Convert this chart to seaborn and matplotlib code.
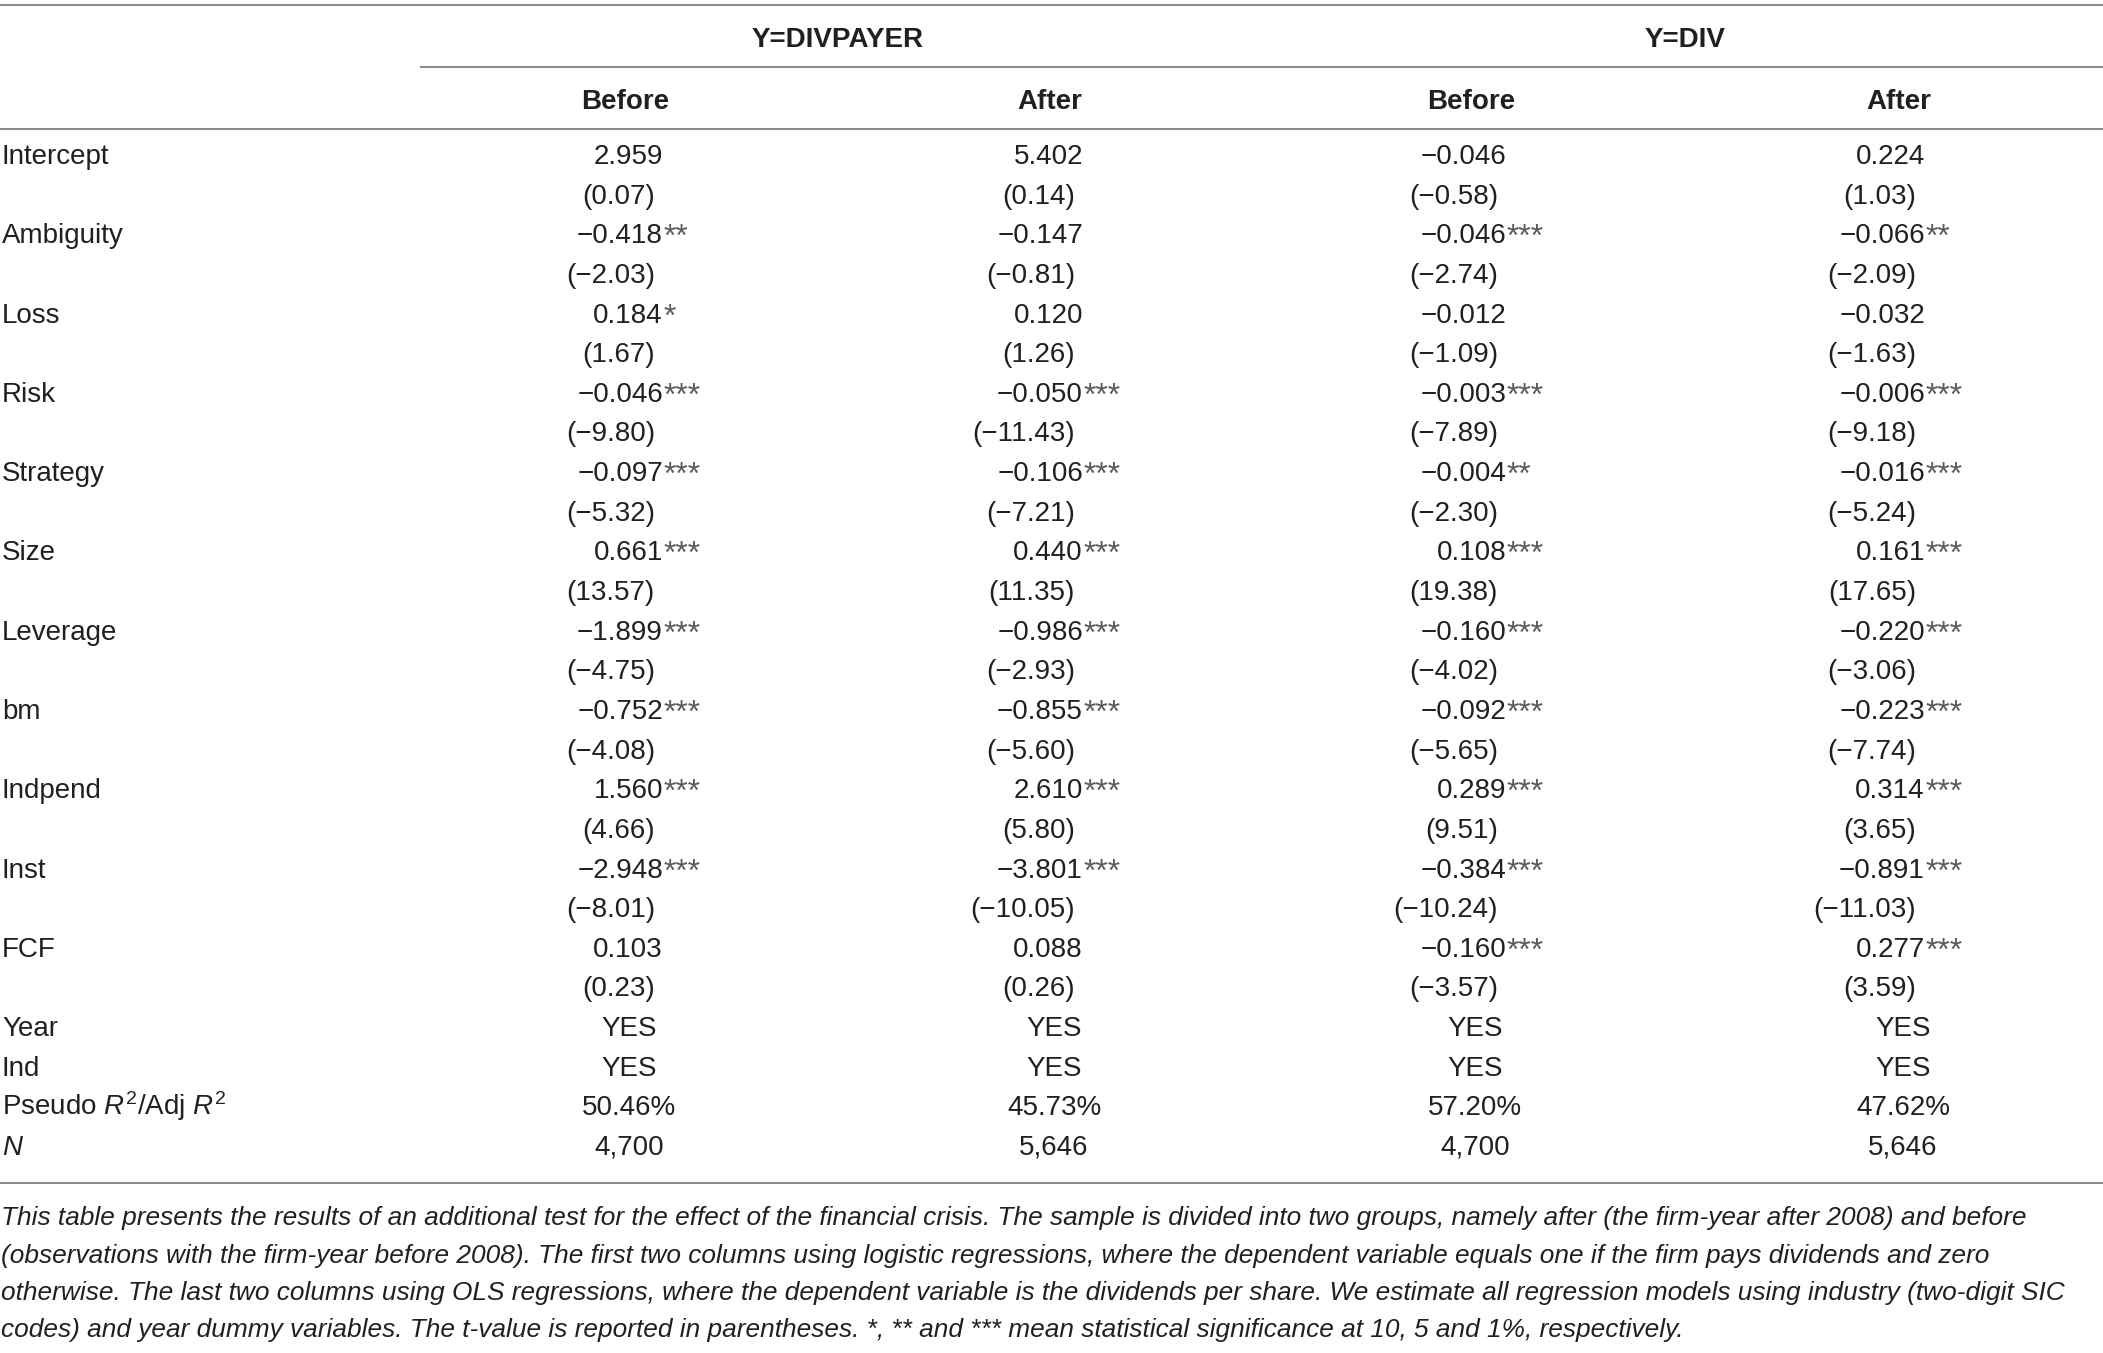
import numpy as np
import pandas as pd
import seaborn as sns
import matplotlib.pyplot as plt

# table contents
variables = ["Intercept", "Ambiguity", "Loss", "Risk", "Strategy", "Size",
             "Leverage", "bm", "Indpend", "Inst", "FCF"]
groups = ["Y=DIVPAYER", "Y=DIV"]
periods = ["Before", "After", "Before", "After"]

coef_div_payer_before = [2.959, -0.418, 0.184, -0.046, -0.097, 0.661, -1.899, -0.752, 1.560, -2.948, 0.103]
coef_div_payer_after = [5.402, -0.147, 0.120, -0.050, -0.106, 0.440, -0.986, -0.855, 2.610, -3.801, 0.088]
coef_div_before = [-0.046, -0.046, -0.012, -0.003, -0.004, 0.108, -0.160, -0.092, 0.289, -0.384, -0.160]
coef_div_after = [0.224, -0.066, -0.032, -0.006, -0.016, 0.161, -0.220, -0.223, 0.314, -0.891, 0.277]

stars_div_payer_before = [0, 2, 1, 3, 3, 3, 3, 3, 3, 3, 0]
stars_div_payer_after = [0, 0, 0, 3, 3, 3, 3, 3, 3, 3, 0]
stars_div_before = [0, 3, 0, 3, 2, 3, 3, 3, 3, 3, 3]
stars_div_after = [0, 2, 0, 3, 3, 3, 3, 3, 3, 3, 3]

t_div_payer_before = [0.07, -2.03, 1.67, -9.80, -5.32, 13.57, -4.75, -4.08, 4.66, -8.01, 0.23]
t_div_payer_after = [0.14, -0.81, 1.26, -11.43, -7.21, 11.35, -2.93, -5.60, 5.80, -10.05, 0.26]
t_div_before = [-0.58, -2.74, -1.09, -7.89, -2.30, 19.38, -4.02, -5.65, 9.51, -10.24, -3.57]
t_div_after = [1.03, -2.09, -1.63, -9.18, -5.24, 17.65, -3.06, -7.74, 3.65, -11.03, 3.59]

year_fe = ["YES", "YES", "YES", "YES"]
ind_fe = ["YES", "YES", "YES", "YES"]
r_squared = ["50.46%", "45.73%", "57.20%", "47.62%"]
n_obs = ["4,700", "5,646", "4,700", "5,646"]

footer_labels = ["Year", "Ind", "Pseudo $R^2$/Adj $R^2$", "$N$"]

caption_lines = [
    "This table presents the results of an additional test for the effect of the financial crisis. "
    "The sample is divided into two groups, namely after (the firm-year after 2008) and before",
    "(observations with the firm-year before 2008). The first two columns using logistic regressions, "
    "where the dependent variable equals one if the firm pays dividends and zero",
    "otherwise. The last two columns using OLS regressions, where the dependent variable is the "
    "dividends per share. We estimate all regression models using industry (two-digit SIC",
    "codes) and year dummy variables. The t-value is reported in parentheses. *, ** and *** mean "
    "statistical significance at 10, 5 and 1%, respectively.",
]

coefs = pd.DataFrame({0: coef_div_payer_before, 1: coef_div_payer_after,
                      2: coef_div_before, 3: coef_div_after}, index=variables)
stars = pd.DataFrame({0: stars_div_payer_before, 1: stars_div_payer_after,
                      2: stars_div_before, 3: stars_div_after}, index=variables)
tvals = pd.DataFrame({0: t_div_payer_before, 1: t_div_payer_after,
                      2: t_div_before, 3: t_div_after}, index=variables)
footer = [year_fe, ind_fe, r_squared, n_obs]


def fmt(v, nd):
    s = f"{abs(v):.{nd}f}"
    return ("\u2212" + s) if v < 0 else s


sns.set_theme(style="white")
plt.rcParams["font.family"] = ["Liberation Sans", "DejaVu Sans"]
plt.rcParams["mathtext.fontset"] = "custom"
plt.rcParams["mathtext.rm"] = "Liberation Sans"
plt.rcParams["mathtext.it"] = "Liberation Sans:italic"

W, H = 2103, 1353
fig = plt.figure(figsize=(W / 100, H / 100), dpi=100)
ax = fig.add_axes([0, 0, 1, 1])
ax.set_xlim(0, W)
ax.set_ylim(H, 0)
ax.axis("off")

ink = "#231f20"
rule = "#8c8c8c"
fs = 20

# layout (pixels)
col_center = [625, 1050, 1471, 1899]
coef_right = [663, 1083, 1506, 1925]
t_right = [655, 1075, 1498, 1916]
row0, step = 164, 39.64

# rules
ax.hlines(5, 0, W, color=rule, lw=1.5)
ax.hlines(67, 420, W, color=rule, lw=1.5)
ax.hlines(129, 0, W, color=rule, lw=1.5)
ax.hlines(1183, 0, W, color=rule, lw=1.5)

# headers
for g, name in enumerate(groups):
    cx = (col_center[2 * g] + col_center[2 * g + 1]) / 2
    ax.text(cx, 47, name, ha="center", va="baseline", fontsize=fs, fontweight="bold", color=ink)
for j, p in enumerate(periods):
    ax.text(col_center[j], 109, p, ha="center", va="baseline", fontsize=fs, fontweight="bold", color=ink)

# body
for i, var in enumerate(variables):
    y = row0 + 2 * i * step
    ax.text(2, y, var, ha="left", va="baseline", fontsize=fs, color=ink)
    for j in range(4):
        ax.text(coef_right[j], y, fmt(coefs.loc[var, j], 3), ha="right", va="baseline",
                fontsize=fs, color=ink)
        if stars.loc[var, j]:
            ax.text(coef_right[j] + 1, y + 3, "*" * stars.loc[var, j], ha="left", va="baseline",
                    fontsize=23, color="#5a5a5a")
        ax.text(t_right[j], y + step, "(" + fmt(tvals.loc[var, j], 2) + ")", ha="right",
                va="baseline", fontsize=fs, color=ink)

for k, lab in enumerate(footer_labels):
    y = row0 + (2 * len(variables) + k) * step
    ax.text(2, y, lab, ha="left", va="baseline", fontsize=fs, color=ink)
    for j in range(4):
        ax.text(col_center[j] + 4, y, footer[k][j], ha="center", va="baseline",
                fontsize=fs, color=ink)

# caption, scaled so the first line spans the same width as in the original
cap_y = [1225, 1263, 1300, 1337]
cap_texts = [ax.text(1, cap_y[k], line, ha="left", va="baseline", fontsize=fs,
                     style="italic", color=ink) for k, line in enumerate(caption_lines)]
fig.canvas.draw()
renderer = fig.canvas.get_renderer()
width = cap_texts[0].get_window_extent(renderer).width
for t in cap_texts:
    t.set_fontsize(fs * 2019 / width)

fig.savefig("out.png", dpi=100, facecolor="white")
